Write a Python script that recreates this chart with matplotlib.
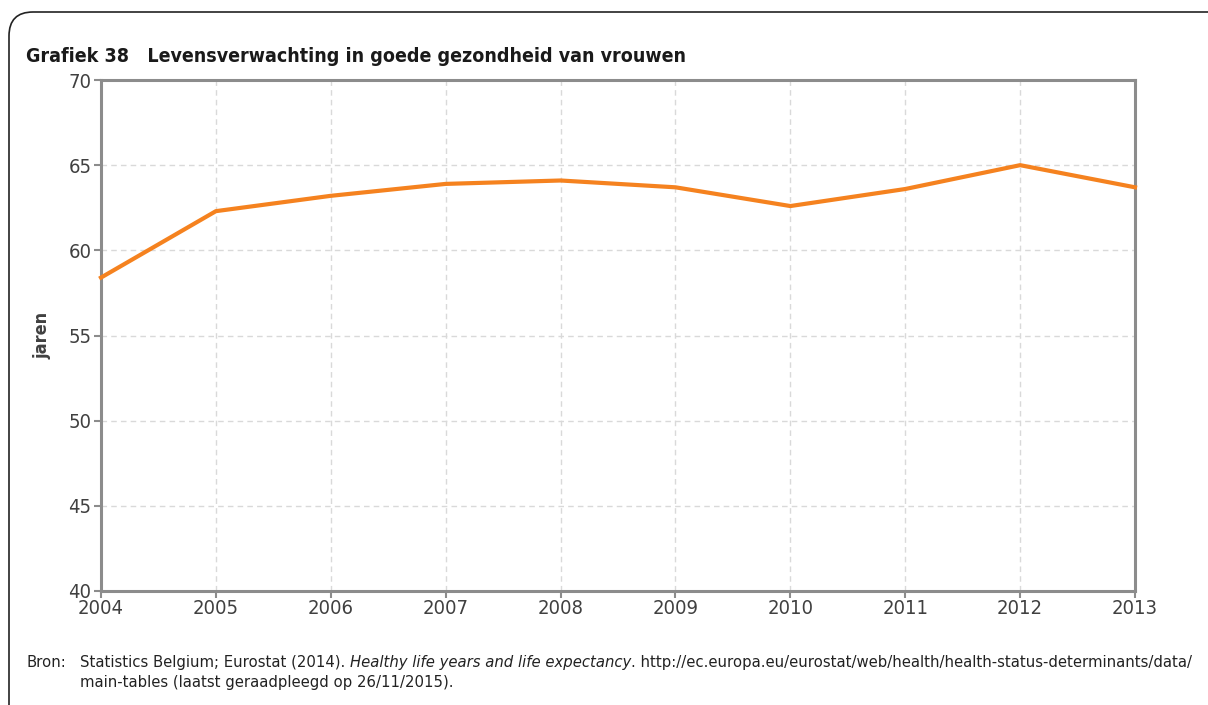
import matplotlib
matplotlib.use("Agg")
import matplotlib.pyplot as plt
from matplotlib.patches import FancyBboxPatch
from matplotlib.transforms import IdentityTransform

years = [2004, 2005, 2006, 2007, 2008, 2009, 2010, 2011, 2012, 2013]
jaren = [58.4, 62.3, 63.2, 63.9, 64.1, 63.7, 62.6, 63.6, 65.0, 63.7]
yticks = [40, 45, 50, 55, 60, 65, 70]

plt.rcParams['font.family'] = ['DejaVu Sans']
plt.rcParams['font.stretch'] = 'condensed'

W, H = 1208, 705
fig = plt.figure(figsize=(W / 100, H / 100), dpi=100)
ax = fig.add_axes([101 / W, 1 - 591 / H, (1135 - 101) / W, (591 - 80) / H])

# rounded frame around the chart (pixel coords)
frame = FancyBboxPatch((9, -30), 1300, H - 12 + 30,
                       boxstyle="round,pad=0,rounding_size=24",
                       transform=IdentityTransform(), fill=False,
                       edgecolor='#222222', linewidth=1.2, zorder=0)
fig.patches.append(frame)

ax.plot(years, jaren, color='#F5821F', linewidth=3, zorder=3, clip_on=False)

ax.set_xlim(2004, 2013)
ax.set_ylim(40, 70)
ax.set_xticks(years)
ax.set_yticks(yticks)
ax.grid(True, color='#d9d9d9', linestyle=(0, (4, 3)), linewidth=1)
ax.set_axisbelow(True)

for s in ax.spines.values():
    s.set_color('#8c8c8c')
    s.set_linewidth(2.2)

ax.tick_params(axis='both', colors='#8c8c8c', length=5, width=1.5, labelcolor='#404040', labelsize=14.5)
ax.tick_params(axis='x', pad=1)
ax.tick_params(axis='y', pad=2)

ax.set_ylabel('jaren', fontsize=13, fontweight='bold', color='#404040', labelpad=12)

fig.text(26 / W, 1 - 57 / H, 'Grafiek 38   Levensverwachting in goede gezondheid van vrouwen',
         fontsize=14, fontweight='bold', color='#1a1a1a', va='center', ha='left')

# footer: plain / italic / plain pieces placed one after the other
foot = dict(fontsize=10.7, color='#222222', va='baseline', stretch='normal')
fig.text(26 / W, 1 - 667 / H, 'Bron:', **foot)
pieces = [('Statistics Belgium; Eurostat (2014). ', 'normal'),
          ('Healthy life years and life expectancy', 'italic'),
          ('. http://ec.europa.eu/eurostat/web/health/health-status-determinants/data/', 'normal')]
renderer = fig.canvas.get_renderer()
x = 80
for txt, st in pieces:
    t = fig.text(x / W, 1 - 667 / H, txt, style=st, **foot)
    x += t.get_window_extent(renderer).width
fig.text(80 / W, 1 - 687 / H, 'main-tables (laatst geraadpleegd op 26/11/2015).', **foot)

fig.savefig('out.png', dpi=100)
